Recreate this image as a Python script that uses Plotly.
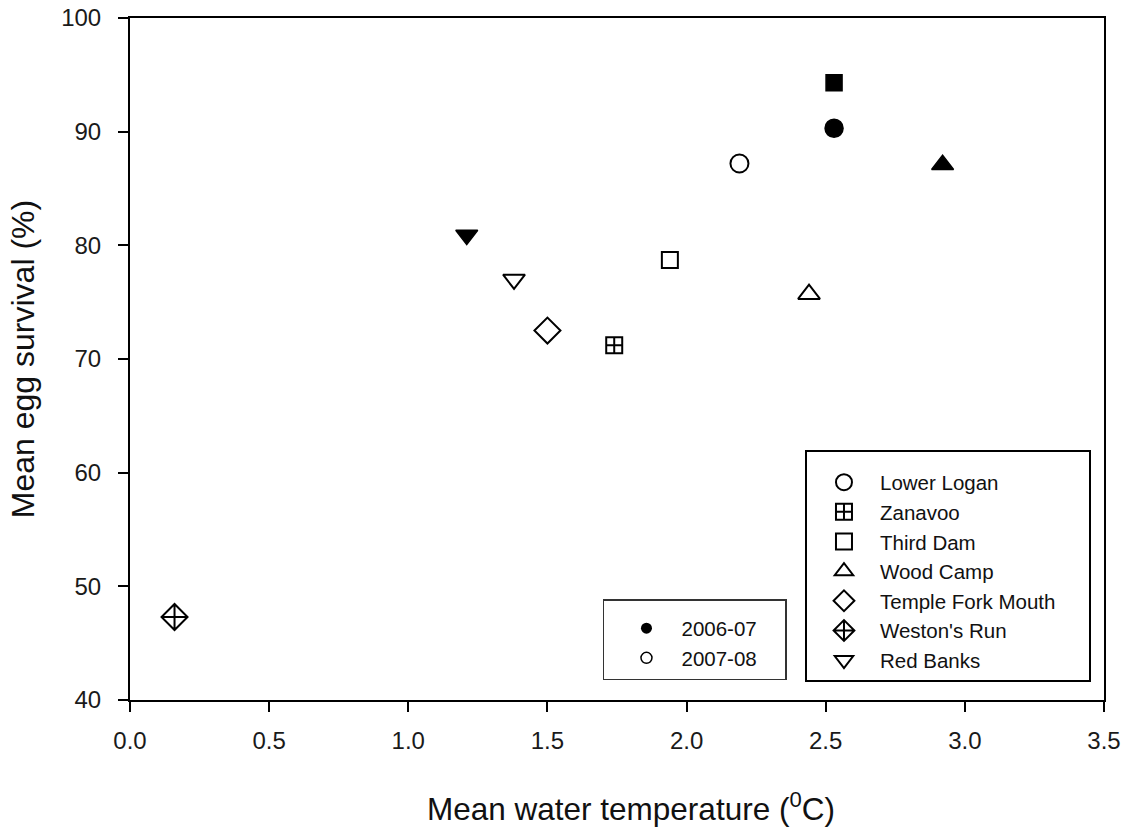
import plotly.graph_objects as go

sites = ["Lower Logan", "Zanavoo", "Third Dam", "Wood Camp",
         "Temple Fork Mouth", "Weston's Run", "Red Banks"]
symbols = ["circle", "square-cross", "square", "triangle-up",
           "diamond", "diamond-cross", "triangle-down"]

# 2006-07 (filled)
t06_site = ["Lower Logan", "Third Dam", "Wood Camp", "Red Banks"]
t06_temp = [2.53, 2.53, 2.92, 1.21]
t06_surv = [90.3, 94.3, 87.1, 80.9]

# 2007-08 (open)
t07_site = ["Lower Logan", "Zanavoo", "Third Dam", "Wood Camp",
            "Temple Fork Mouth", "Weston's Run", "Red Banks"]
t07_temp = [2.19, 1.74, 1.94, 2.44, 1.50, 0.16, 1.38]
t07_surv = [87.2, 71.2, 78.7, 75.7, 72.5, 47.3, 77.0]

years = ["2006-07", "2007-08"]

x_ticks = [0, 0.5, 1, 1.5, 2, 2.5, 3, 3.5]
x_ticktext = ["0.0", "0.5", "1.0", "1.5", "2.0", "2.5", "3.0", "3.5"]
y_ticks = [40, 50, 60, 70, 80, 90, 100]

sym_of = dict(zip(sites, symbols))
size_of = {"circle": 18, "square-cross": 16, "square": 16, "triangle-up": 19,
           "diamond": 20, "diamond-cross": 20, "triangle-down": 19}

NB = "\u00a0"
pad_site = max(len(s) for s in sites)

fig = go.Figure()

for s, x, y in zip(t06_site, t06_temp, t06_surv):
    sym = sym_of[s]
    fig.add_trace(go.Scatter(x=[x], y=[y], mode="markers", showlegend=False,
                             marker=dict(symbol=sym, size=size_of[sym], color="black",
                                         line=dict(color="black", width=1.5))))
for s, x, y in zip(t07_site, t07_temp, t07_surv):
    sym = sym_of[s]
    fig.add_trace(go.Scatter(x=[x], y=[y], mode="markers", showlegend=False,
                             marker=dict(symbol=sym + "-open", size=size_of[sym], color="black",
                                         line=dict(color="black", width=2))))

# site legend
for s in sites:
    sym = sym_of[s]
    label = s + NB * 5 if len(s) == pad_site else s
    fig.add_trace(go.Scatter(x=[None], y=[None], mode="markers", name=label, legend="legend",
                             marker=dict(symbol=sym + "-open", size=16, color="black",
                                         line=dict(color="black", width=2))))
# year legend
fig.add_trace(go.Scatter(x=[None], y=[None], mode="markers", name=years[0] + NB * 4, legend="legend2",
                         marker=dict(symbol="circle", size=11, color="black")))
fig.add_trace(go.Scatter(x=[None], y=[None], mode="markers", name=years[1], legend="legend2",
                         marker=dict(symbol="circle-open", size=11, color="black",
                                     line=dict(color="black", width=1.5))))

font = "Liberation Sans, Arial, sans-serif"
axis_common = dict(showgrid=False, zeroline=False, showline=True, linecolor="black",
                   linewidth=2, mirror=True, ticks="outside", ticklen=10, tickwidth=2,
                   tickcolor="black", automargin=False,
                   tickfont=dict(family=font, size=24, color="#1a1a1a"))

fig.update_layout(
    width=1131, height=831,
    margin=dict(l=130, r=27, t=18, b=131),
    plot_bgcolor="white", paper_bgcolor="white",
    font=dict(family=font, color="#111"),
    xaxis=dict(range=[0, 3.5], tickvals=x_ticks, ticktext=x_ticktext,
               ticklabelstandoff=8, **axis_common),
    yaxis=dict(range=[40, 100], tickvals=y_ticks, ticklabelstandoff=12,
               title=dict(text="Mean egg survival (%)",
                          font=dict(family=font, size=32, color="#111"), standoff=17),
               **axis_common),
    legend=dict(x=0.693, y=0.3666, xanchor="left", yanchor="top",
                bgcolor="white", bordercolor="black", borderwidth=2,
                indentation=1, itemwidth=62,
                title=dict(text=" ", font=dict(size=8)),
                font=dict(family=font, size=20.5, color="#111"), itemsizing="trace"),
    legend2=dict(x=0.4856, y=0.148, xanchor="left", yanchor="top",
                 bgcolor="white", bordercolor="#333", borderwidth=1.5,
                 indentation=7, itemwidth=60,
                 title=dict(text=" ", font=dict(size=6)),
                 font=dict(family=font, size=20.5, color="#111"), itemsizing="trace"),
    annotations=[dict(text="Mean water temperature (<sup>0</sup>C)", xref="paper", yref="paper",
                      x=0.514, y=-0.157, xanchor="center", yanchor="middle", showarrow=False,
                      font=dict(family=font, size=31.5, color="#111"))],
)

fig.write_html("out.html", config={"displayModeBar": False},
               post_script="document.body.style.margin='0';")
